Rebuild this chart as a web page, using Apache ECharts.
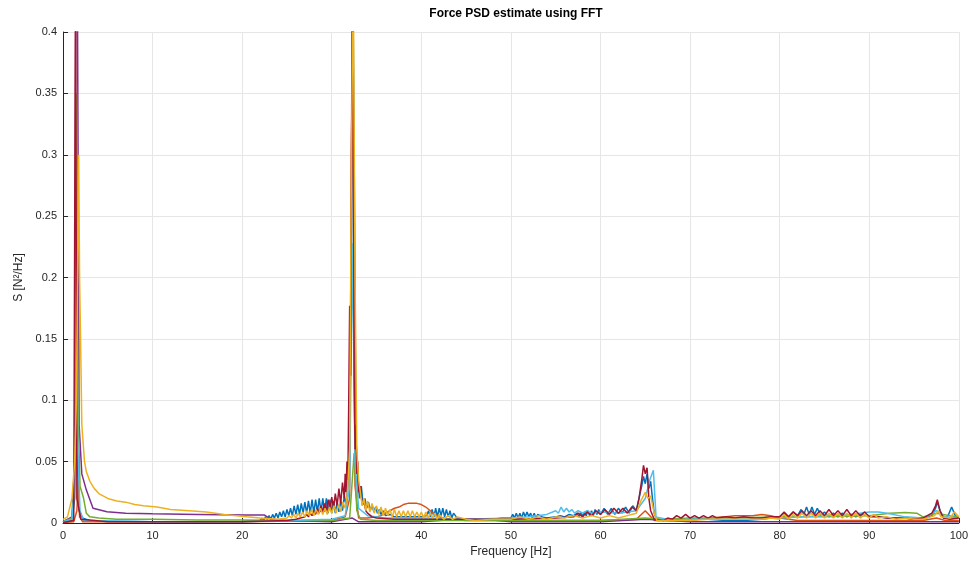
<!DOCTYPE html>
<html>
<head>
<meta charset="utf-8">
<script src="https://cdn.jsdelivr.net/npm/echarts@6/dist/echarts.min.js"></script>
<style>html,body{margin:0;padding:0;background:#fff}#c{width:971px;height:568px}</style>
</head>
<body>
<div id="c"></div>
<script>
var xTicks = [0,10,20,30,40,50,60,70,80,90,100];
var yTicks = [0,0.05,0.1,0.15,0.2,0.25,0.3,0.35,0.4];

var blue = [[0,0.001],[0.5,0.001],[1.0,0.002],[1.3,0.02],[1.45,0.076],[1.6,0.05],[1.8,0.01],[2.2,0.004],[3,0.002],[5,0.0015],[10,0.001],[15,0.001],[20,0.0012],
[22.0,0.002],[22.2,0.004],[22.4,0.002],[22.6,0.005],[22.8,0.003],[23.0,0.006],[23.2,0.003],[23.4,0.007],[23.6,0.004],[23.8,0.008],[24.0,0.004],[24.2,0.009],[24.4,0.005],[24.6,0.010],[24.8,0.005],[25.0,0.011],[25.2,0.006],[25.4,0.012],[25.6,0.006],[25.8,0.014],[26.0,0.007],[26.2,0.015],[26.4,0.007],[26.6,0.016],[26.8,0.008],[27.0,0.017],[27.2,0.008],[27.4,0.018],[27.6,0.008],[27.8,0.019],[28.0,0.008],[28.2,0.019],[28.4,0.009],[28.6,0.020],[28.8,0.009],[29.0,0.020],[29.2,0.009],[29.4,0.020],[29.6,0.008],[29.8,0.019],[30.0,0.008],[30.2,0.018],[30.4,0.008],[30.6,0.017],[30.8,0.009],[31.0,0.018],[31.2,0.010],[31.4,0.022],[31.6,0.015],[31.8,0.03],[32.0,0.06],[32.2,0.2],[32.35,0.45],[32.5,0.3],[32.7,0.07],[32.9,0.035],[33.1,0.02],[33.3,0.03],[33.5,0.015],[33.7,0.02],[33.9,0.012],[34.1,0.017],[34.3,0.01],[34.5,0.015],[34.7,0.009],[34.9,0.013],[35.1,0.008],[35.3,0.011],[35.5,0.007],[35.7,0.01],[36,0.006],[36.5,0.007],[37,0.005],[38,0.005],[39,0.005],[40,0.005],[40.6,0.006],[40.8,0.01],[41.0,0.005],[41.2,0.011],[41.4,0.005],[41.6,0.012],[41.8,0.005],[42.0,0.012],[42.2,0.006],[42.4,0.012],[42.6,0.005],[42.8,0.011],[43.0,0.005],[43.2,0.01],[43.4,0.004],[43.6,0.008],[44,0.004],[45,0.003],[46,0.003],[47,0.003],[48,0.003],[49,0.004],[50,0.004],[50.2,0.007],[50.4,0.004],[50.6,0.008],[50.8,0.004],[51,0.008],[51.2,0.004],[51.4,0.009],[51.6,0.005],[51.8,0.009],[52,0.005],[52.2,0.008],[52.4,0.004],[52.6,0.008],[52.8,0.004],[53,0.007],[53.5,0.005],[54,0.004],[55,0.005],[55.5,0.006],[56,0.005],[56.5,0.007],[57,0.006],[57.4,0.008],[57.6,0.005],[57.8,0.009],[58,0.005],[58.2,0.009],[58.4,0.006],[58.6,0.01],[58.8,0.006],[59,0.01],[59.2,0.006],[59.4,0.011],[59.6,0.007],[59.8,0.011],[60,0.007],[60.4,0.012],[60.8,0.007],[61.2,0.012],[61.6,0.007],[62,0.012],[62.4,0.008],[62.8,0.013],[63.2,0.008],[63.6,0.014],[64,0.01],[64.3,0.02],[64.6,0.03],[64.8,0.038],[65,0.032],[65.2,0.04],[65.4,0.028],[65.6,0.034],[65.8,0.02],[66,0.008],[66.3,0.002],[67,0.002],[68,0.002],[69,0.003],[70,0.003],[72,0.003],[74,0.002],[76,0.002],[78,0.003],[79,0.004],[80,0.005],[80.5,0.008],[81,0.005],[81.5,0.009],[82,0.006],[82.4,0.011],[82.7,0.007],[83,0.013],[83.3,0.007],[83.6,0.013],[83.9,0.007],[84.2,0.012],[84.6,0.006],[85,0.009],[85.5,0.005],[86,0.008],[86.5,0.005],[87,0.008],[87.5,0.005],[88,0.007],[88.5,0.005],[89,0.007],[90,0.006],[91,0.005],[92,0.004],[93,0.004],[94,0.004],[95,0.003],[96,0.003],[97,0.006],[97.4,0.012],[97.6,0.017],[97.9,0.01],[98.3,0.004],[98.8,0.006],[99.2,0.013],[99.6,0.006],[100,0.004]];

var orange = [[0,0.0005],[1.2,0.001],[1.55,0.01],[1.7,0.035],[1.85,0.005],[2.2,0.001],[10,0.001],[20,0.001],[30,0.002],[31.5,0.005],[32,0.02],[32.3,0.45],[32.6,0.03],[33,0.004],[34,0.004],[35,0.005],[35.5,0.006],[36,0.008],[36.5,0.01],[37,0.012],[37.5,0.013],[38,0.015],[38.5,0.016],[39,0.016],[39.5,0.016],[40,0.015],[40.5,0.013],[41,0.01],[41.5,0.007],[42,0.005],[43,0.003],[45,0.002],[50,0.002],[55,0.002],[60,0.002],[64,0.003],[65,0.01],[66,0.002],[70,0.002],[72,0.004],[74,0.005],[75,0.006],[76,0.006],[77,0.006],[78,0.007],[79,0.006],[80,0.004],[82,0.002],[88,0.002],[92,0.002],[96,0.002],[97.5,0.004],[98.5,0.002],[100,0.002]];

var yellow = [[0,0.003],[0.5,0.005],[1.0,0.02],[1.3,0.05],[1.5,0.1],[1.75,0.3],[1.85,0.2],[1.95,0.155],[2.1,0.08],[2.4,0.05],[2.6,0.042],[3,0.034],[3.5,0.028],[4,0.024],[5,0.02],[6,0.018],[7,0.017],[8,0.015],[9,0.014],[10.5,0.013],[12,0.011],[14.5,0.0098],[16,0.009],[18,0.007],[20.5,0.005],[22,0.004],[24,0.003],
[25,0.004],[25.25,0.006],[25.5,0.004],[25.75,0.007],[26,0.004],[26.25,0.008],[26.5,0.005],[26.75,0.009],[27,0.005],[27.25,0.010],[27.5,0.006],[27.75,0.011],[28,0.006],[28.25,0.011],[28.5,0.007],[28.75,0.012],[29,0.007],[29.25,0.012],[29.5,0.007],[29.75,0.013],[30,0.008],[30.25,0.014],[30.5,0.008],[30.75,0.015],[31,0.009],[31.25,0.017],[31.5,0.012],[31.75,0.025],[32.0,0.06],[32.2,0.3],[32.4,0.45],[32.6,0.2],[32.8,0.06],[33,0.035],[33.2,0.025],[33.4,0.014],[33.6,0.02],[33.8,0.01],[34,0.018],[34.25,0.009],[34.5,0.016],[34.75,0.008],[35,0.014],[35.25,0.007],[35.5,0.013],[35.75,0.006],[36,0.012],[36.25,0.006],[36.5,0.011],[36.75,0.005],[37,0.011],[37.25,0.005],[37.5,0.01],[37.75,0.005],[38,0.01],[38.25,0.005],[38.5,0.01],[38.75,0.005],[39,0.01],[39.25,0.005],[39.5,0.009],[39.75,0.005],[40,0.009],[40.25,0.004],[40.5,0.009],[40.75,0.004],[41,0.008],[41.25,0.004],[41.5,0.008],[41.75,0.003],[42,0.007],[42.5,0.003],[43,0.006],[43.5,0.003],[44,0.005],[45,0.003],[46,0.002],[48,0.003],[50,0.003],[51,0.005],[52,0.003],[53,0.005],[54,0.003],[55,0.005],[56,0.004],[57,0.006],[58,0.004],[59,0.006],[60,0.004],[61,0.006],[62,0.004],[63,0.006],[64,0.008],[64.5,0.018],[65,0.025],[65.3,0.02],[65.6,0.022],[66,0.008],[66.3,0.002],[68,0.002],[70,0.002],[72,0.003],[75,0.003],[78,0.003],[79,0.004],[80,0.003],[80.5,0.007],[81,0.003],[81.5,0.007],[82,0.004],[82.5,0.008],[83,0.004],[83.5,0.008],[84,0.004],[84.5,0.008],[85,0.004],[85.5,0.008],[86,0.004],[86.5,0.008],[87,0.004],[87.5,0.008],[88,0.004],[88.5,0.008],[89,0.004],[89.5,0.007],[90,0.004],[90.5,0.007],[91,0.004],[92,0.005],[93,0.003],[94,0.004],[95,0.003],[96,0.003],[97.3,0.006],[97.7,0.01],[98,0.005],[99,0.004],[99.5,0.009],[100,0.005]];

var purple = [[0,0.001],[1.0,0.005],[1.3,0.05],[1.45,0.5],[1.6,0.45],[1.8,0.08],[2.1,0.04],[2.6,0.027],[3.35,0.012],[4.9,0.0092],[7,0.008],[10,0.0075],[15,0.007],[20.5,0.0065],[22.5,0.0065],[23.2,0.003],[25,0.002],[30,0.001],[32.3,0.004],[33,0.001],[40,0.001],[44,0.003],[47,0.003],[50,0.001],[60,0.001],[65,0.003],[70,0.001],[100,0.001]];

var green = [[0,0.001],[1.0,0.004],[1.3,0.03],[1.5,0.35],[1.65,0.1],[1.9,0.03],[2.27,0.021],[2.6,0.008],[3,0.005],[4,0.004],[6,0.003],[10,0.003],[15,0.0025],[20,0.0025],[25,0.002],[30,0.002],[32,0.004],[32.5,0.057],[32.8,0.01],[33.2,0.003],[35,0.002],[40,0.002],[50,0.002],[60,0.002],[65,0.004],[67,0.003],[70,0.004],[75,0.004],[80,0.005],[85,0.005],[90,0.006],[92.3,0.008],[94,0.0085],[95.3,0.008],[96,0.005],[97.5,0.008],[99,0.006],[100,0.005]];

var lightBlue = [[0,0.001],[1.0,0.003],[1.3,0.03],[1.5,0.245],[1.65,0.06],[1.9,0.01],[2.3,0.002],[3,0.002],[10,0.001],[20,0.001],[25,0.002],[30,0.003],[31.5,0.006],[32,0.03],[32.3,0.228],[32.6,0.05],[33,0.012],[34,0.006],[36,0.004],[40,0.004],[45,0.003],[50,0.004],[52,0.005],[54,0.007],[55,0.010],[55.3,0.008],[55.6,0.013],[55.9,0.009],[56.2,0.012],[56.5,0.009],[56.8,0.011],[57.1,0.008],[57.5,0.010],[58,0.008],[58.5,0.010],[59,0.008],[60,0.009],[62,0.008],[64,0.01],[65,0.02],[65.5,0.035],[65.9,0.043],[66.2,0.005],[68,0.002],[70,0.003],[75,0.003],[80,0.004],[85,0.006],[88,0.007],[90,0.009],[91,0.009],[92,0.008],[94,0.005],[96,0.004],[97.5,0.01],[98.5,0.005],[100,0.004]];

var darkRed = [[0,0.0005],[1.2,0.002],[1.4,0.45],[1.55,0.02],[2,0.003],[5,0.001],[20,0.001],[25,0.002],[26,0.003],[26.5,0.004],[27,0.005],[27.2,0.007],[27.4,0.005],[27.6,0.008],[27.8,0.006],[28.0,0.01],[28.2,0.007],[28.4,0.012],[28.6,0.008],[28.8,0.014],[29.0,0.009],[29.2,0.016],[29.4,0.010],[29.6,0.019],[29.8,0.011],[30.0,0.021],[30.2,0.012],[30.4,0.024],[30.6,0.014],[30.8,0.028],[31.0,0.016],[31.2,0.033],[31.4,0.02],[31.5,0.04],[31.6,0.025],[31.7,0.05],[31.8,0.035],[31.9,0.1],[32.0,0.177],[32.1,0.12],[32.2,0.3],[32.35,0.45],[32.5,0.12],[32.6,0.06],[32.7,0.08],[32.8,0.04],[32.9,0.05],[33.0,0.025],[33.2,0.03],[33.4,0.015],[33.6,0.018],[33.8,0.01],[34,0.008],[34.5,0.005],[35,0.004],[37,0.003],[40,0.003],[42,0.003],[45,0.003],[50,0.003],[55,0.004],[57,0.005],[57.5,0.008],[58,0.005],[58.5,0.009],[59,0.006],[59.5,0.01],[60,0.007],[60.5,0.011],[61,0.007],[61.5,0.012],[62,0.008],[62.5,0.012],[63,0.008],[63.5,0.013],[64,0.01],[64.3,0.02],[64.6,0.035],[64.8,0.047],[65,0.04],[65.2,0.045],[65.4,0.02],[65.6,0.01],[66,0.003],[67,0.002],[67.5,0.004],[68,0.003],[68.5,0.006],[69,0.004],[69.5,0.007],[70,0.004],[70.5,0.006],[71,0.004],[71.5,0.006],[72,0.004],[72.5,0.006],[73,0.004],[74,0.005],[75,0.004],[76,0.005],[77,0.004],[78,0.004],[79,0.005],[80,0.005],[80.5,0.009],[81,0.005],[81.5,0.009],[82,0.006],[82.5,0.01],[83,0.006],[83.5,0.01],[84,0.006],[84.5,0.01],[85,0.006],[85.5,0.011],[86,0.006],[86.5,0.01],[87,0.006],[87.5,0.011],[88,0.006],[88.5,0.01],[89,0.006],[89.5,0.009],[90,0.005],[91,0.005],[92,0.004],[93,0.004],[94,0.004],[95,0.003],[96,0.004],[97,0.008],[97.4,0.014],[97.6,0.019],[97.9,0.01],[98.3,0.004],[99,0.003],[100,0.004]];

var seriesList = [
  {data: blue, color: '#0072BD'},
  {data: orange, color: '#D95319'},
  {data: purple, color: '#7E2F8E'},
  {data: green, color: '#77AC30'},
  {data: lightBlue, color: '#4DBEEE'},
  {data: darkRed, color: '#A2142F'},
  {data: yellow, color: '#EDB120'}
];

var font = 'Liberation Sans, Arial, Helvetica, sans-serif';
var chart = echarts.init(document.getElementById('c'), null, {renderer: 'canvas'});
chart.setOption({
  animation: false,
  backgroundColor: '#ffffff',
  title: {
    text: 'Force PSD estimate using FFT',
    left: 511, top: 3, textAlign: 'center',
    textStyle: {fontFamily: font, fontSize: 12, fontWeight: 'bold', color: '#000'}
  },
  grid: {left: 63, right: 12, top: 32, bottom: 45},
  xAxis: {
    type: 'value', min: 0, max: 100, interval: 10,
    name: 'Frequency [Hz]', nameLocation: 'middle', nameGap: 20,
    nameTextStyle: {fontFamily: font, fontSize: 12, color: '#262626'},
    axisLine: {show: true, onZero: false, lineStyle: {color: '#262626', width: 1}},
    axisTick: {show: true, inside: true, length: 5, lineStyle: {color: '#262626'}},
    axisLabel: {fontFamily: font, fontSize: 11, color: '#262626', margin: 7,
      formatter: function (v) { return xTicks.indexOf(v) >= 0 ? String(v) : ''; }},
    splitLine: {show: true, lineStyle: {color: '#e6e6e6', width: 1}}
  },
  yAxis: {
    type: 'value', min: 0, max: 0.4, interval: 0.05,
    name: 'S [N\u00B2/Hz]', nameLocation: 'middle', nameGap: 35, nameRotate: 90,
    nameTextStyle: {fontFamily: font, fontSize: 12, color: '#262626'},
    axisLine: {show: true, lineStyle: {color: '#262626', width: 1}},
    axisTick: {show: true, inside: true, length: 5, lineStyle: {color: '#262626'}},
    axisLabel: {fontFamily: font, fontSize: 11, color: '#262626', margin: 6,
      formatter: function (v) {
        for (var i = 0; i < yTicks.length; i++) { if (Math.abs(yTicks[i] - v) < 1e-9) return String(yTicks[i]); }
        return '';
      }},
    splitLine: {show: true, lineStyle: {color: '#e6e6e6', width: 1}}
  },
  series: seriesList.map(function (s) {
    return {
      type: 'line', data: s.data, showSymbol: false, symbol: 'none', clip: true,
      lineStyle: {color: s.color, width: 1.5}, itemStyle: {color: s.color}
    };
  })
});
</script>
</body>
</html>
